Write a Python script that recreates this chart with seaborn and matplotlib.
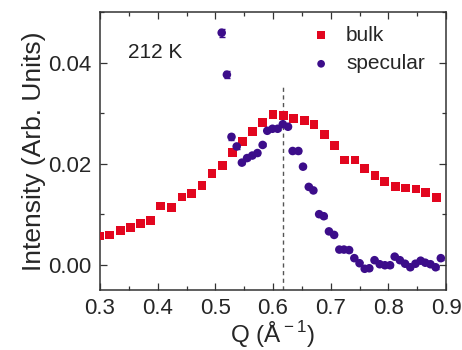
import numpy as np
import pandas as pd
import matplotlib
matplotlib.use("Agg")
import matplotlib.pyplot as plt
import seaborn as sns
from matplotlib.ticker import MultipleLocator

# bulk scattering (red squares)
bulk_q = [0.300, 0.317, 0.336, 0.353, 0.370, 0.388, 0.405, 0.424, 0.442, 0.459,
          0.477, 0.494, 0.512, 0.530, 0.547, 0.565, 0.582, 0.600, 0.618, 0.636,
          0.654, 0.671, 0.689, 0.707, 0.724, 0.742, 0.759, 0.777, 0.794, 0.812,
          0.830, 0.848, 0.865, 0.883]
bulk_i = [0.0057, 0.0059, 0.0067, 0.0074, 0.0081, 0.0087, 0.0116, 0.0114, 0.0134, 0.0141,
          0.0157, 0.0180, 0.0197, 0.0222, 0.0244, 0.0264, 0.0281, 0.0298, 0.0296, 0.0290,
          0.0286, 0.0277, 0.0257, 0.0236, 0.0207, 0.0207, 0.0191, 0.0176, 0.0164, 0.0155,
          0.0152, 0.0150, 0.0143, 0.0133]

# specular scattering (purple circles with error bars)
spec_q = [0.511, 0.520, 0.528, 0.537, 0.546, 0.555, 0.564, 0.573, 0.582, 0.590,
          0.599, 0.608, 0.617, 0.626, 0.634, 0.644, 0.652, 0.662, 0.670, 0.680,
          0.688, 0.697, 0.706, 0.715, 0.723, 0.732, 0.741, 0.750, 0.759, 0.767,
          0.776, 0.785, 0.794, 0.803, 0.811, 0.820, 0.829, 0.838, 0.847, 0.856,
          0.864, 0.873, 0.882, 0.891]
spec_i = [0.0459, 0.0376, 0.0253, 0.0234, 0.0202, 0.0211, 0.0216, 0.0221, 0.0237, 0.0265,
          0.0269, 0.0269, 0.0278, 0.0273, 0.0225, 0.0225, 0.0194, 0.0154, 0.0147, 0.0100,
          0.0096, 0.0066, 0.0059, 0.0030, 0.0030, 0.0029, 0.0013, 0.0003, -0.0008, -0.0007,
          0.0009, 0.0001, -0.0001, -0.0001, 0.0016, 0.0009, 0.0002, -0.0005, 0.0002, 0.0008,
          0.0004, 0.0001, -0.0005, 0.0013]
spec_err = [0.0008, 0.0007, 0.0006, 0.0005] + [0.0003] * 40

q_marker = 0.618
label_text = "212 K"

RED = "#e2061f"
PURPLE = "#3c0d8a"

sns.set_style("ticks")
plt.rcParams["font.family"] = ["Liberation Sans", "DejaVu Sans"]
plt.rcParams["mathtext.fontset"] = "custom"
plt.rcParams["mathtext.rm"] = "Liberation Sans"

bulk = pd.DataFrame({"Q": bulk_q, "I": bulk_i})
spec = pd.DataFrame({"Q": spec_q, "I": spec_i, "err": spec_err})

fig = plt.figure(figsize=(4.62, 3.5), dpi=100)
ax = fig.add_axes([0.2165, 0.1714, 0.7489, 0.7943])

ax.errorbar(spec["Q"], spec["I"], yerr=spec["err"], fmt="none",
            ecolor=PURPLE, elinewidth=1, capsize=2.5, capthick=1, zorder=2)
sns.scatterplot(data=bulk, x="Q", y="I", ax=ax, marker="s", s=40,
                color=RED, edgecolor="none", label="bulk", zorder=3)
sns.scatterplot(data=spec, x="Q", y="I", ax=ax, marker="o", s=38,
                color=PURPLE, edgecolor="none", label="specular", zorder=4)

ax.axvline(q_marker, ymin=0, ymax=0.737, color="#555555",
           linestyle=(0, (3, 2.5)), linewidth=1, zorder=1)

ax.set_xlim(0.3, 0.9)
ax.set_ylim(-0.005, 0.050)
ax.xaxis.set_major_locator(MultipleLocator(0.1))
ax.xaxis.set_minor_locator(MultipleLocator(0.05))
ax.yaxis.set_major_locator(MultipleLocator(0.02))
ax.yaxis.set_minor_locator(MultipleLocator(0.01))
ax.set_xticklabels([f"{v:.1f}" for v in ax.get_xticks()])
ax.yaxis.set_major_formatter(matplotlib.ticker.FormatStrFormatter("%.2f"))

ax.tick_params(which="both", direction="in", top=True, right=True,
               labelsize=16, color="#333333", width=0.9)
ax.tick_params(which="major", length=5, pad=6)
ax.tick_params(which="minor", length=3)
for s in ax.spines.values():
    s.set_visible(True)
    s.set_linewidth(1.1)
    s.set_color("#333333")

ax.set_xlabel(r"Q (Å$^{\rm -1}$)", fontsize=17.5, labelpad=0)
ax.set_ylabel("Intensity (Arb. Units)", fontsize=19, labelpad=2)

ax.text(0.08, 0.856, label_text, transform=ax.transAxes, fontsize=15,
        va="center", ha="left", color="#222222")

ax.legend(loc="upper right", frameon=False, fontsize=15, handletextpad=0.2,
          borderaxespad=0.2, labelspacing=0.45, markerscale=0.9,
          bbox_to_anchor=(0.975, 0.995))

fig.savefig("out.png", dpi=100)
